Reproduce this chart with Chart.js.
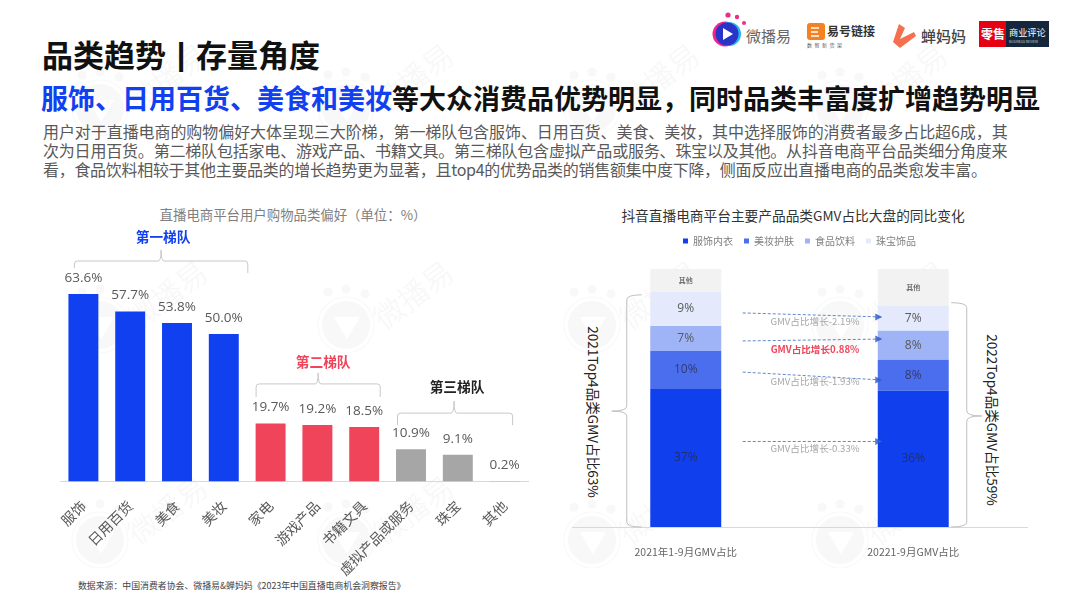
<!DOCTYPE html>
<html lang="zh">
<head>
<meta charset="utf-8">
<script src="https://cdn.jsdelivr.net/npm/chart.js@4/dist/chart.umd.js"></script>
<style>
html,body{margin:0;padding:0;background:#fff;}
body{width:1080px;height:608px;overflow:hidden;position:relative;font-family:"Noto Sans CJK SC","Noto Sans",sans-serif;}
canvas{position:absolute;left:0;top:0;}
.t{position:absolute;white-space:nowrap;transform:translateY(-50%);line-height:1.2;}
.c{transform:translate(-50%,-50%);}
.v{transform:translate(-50%,-50%) rotate(90deg);color:#222;font-size:13.6px;}
#wm,#logos{position:absolute;left:0;top:0;}
</style>
</head>
<body>
<svg id="wm" width="1080" height="608"></svg>

<div class="t" style="left:42px;top:55px;font-size:31px;font-weight:700;color:#111;">品类趋势<span style="display:inline-block;width:30px;text-align:center;font-family:'Liberation Sans';position:relative;top:-2px;">|</span>存量角度</div>
<div class="t" style="left:41px;top:98px;font-size:27px;font-weight:700;color:#111;"><span style="color:#1140F0">服饰、日用百货、美食和美妆</span>等大众消费品优势明显，同时品类丰富度扩增趋势明显</div>
<div class="t" style="left:43px;top:132px;font-size:16px;color:#595959;letter-spacing:-.07px;">用户对于直播电商的购物偏好大体呈现三大阶梯，第一梯队包含服饰、日用百货、美食、美妆，其中选择服饰的消费者最多占比超6成，其</div>
<div class="t" style="left:43px;top:151px;font-size:16px;color:#595959;letter-spacing:-.19px;">次为日用百货。第二梯队包括家电、游戏产品、书籍文具。第三梯队包含虚拟产品或服务、珠宝以及其他。从抖音电商平台品类细分角度来</div>
<div class="t" style="left:43px;top:170px;font-size:16px;color:#595959;letter-spacing:-.3px;">看，食品饮料相较于其他主要品类的增长趋势更为显著，且top4的优势品类的销售额集中度下降，侧面反应出直播电商的品类愈发丰富。</div>

<div class="t c" style="left:293px;top:214px;font-size:13.4px;color:#7f7f7f;">直播电商平台用户购物品类偏好（单位：%）</div>
<div class="t c" style="left:793px;top:215px;font-size:13.7px;color:#333;">抖音直播电商平台主要产品品类GMV占比大盘的同比变化</div>
<div class="t" style="left:78px;top:586px;font-size:8.9px;color:#444;">数据来源：中国消费者协会、微播易&amp;蝉妈妈《2023年中国直播电商机会洞察报告》</div>

<div class="t c v" style="left:594px;top:412px;">2021Top4品类GMV占比63%</div>
<div class="t c v" style="left:993px;top:420px;">2022Top4品类GMV占比59%</div>

<svg id="logos" width="1080" height="60">
  <circle cx="728" cy="15" r="2.6" fill="#EC2D8C"/><circle cx="737" cy="17" r="2.2" fill="#EC2D8C"/><circle cx="744" cy="23" r="2" fill="#EC2D8C"/>
  <circle cx="725" cy="34" r="12.5" fill="#F0268A"/><circle cx="729" cy="34" r="12" fill="#22B5F0"/><circle cx="727" cy="34" r="11.5" fill="#2A34C8"/>
  <path d="M723 28 L733 34 L723 40 Z" fill="#fff"/>
  <text x="746" y="42" font-size="15" fill="#666">微播易</text>
  <rect x="807" y="23" width="18" height="17" rx="3" fill="#F58220"/>
  <path d="M811 28h8M811 32h7M811 36h8" stroke="#fff" stroke-width="1.5"/>
  <text x="827" y="36" font-size="12" font-weight="700" fill="#333">易号链接</text>
  <text x="807" y="47" font-size="5" fill="#555" letter-spacing="2.5">数智新货架</text>
  <path d="M899 24 L905 28 L900 39 L914 32 L916 36 L900 48 L893 42 Z" fill="#F4714F"/>
  <text x="921" y="42" font-size="15" font-weight="500" fill="#444">蝉妈妈</text>
  <rect x="979" y="21" width="27" height="26" fill="#E60012"/>
  <rect x="1006" y="21" width="43" height="26" fill="#14273C"/>
  <text x="981" y="39" font-size="12" font-weight="700" fill="#fff">零售</text>
  <text x="1009" y="36" font-size="9.2" fill="#fff">商业评论</text>
  <text x="1009" y="43" font-size="3.4" fill="#ccc">BUSINESS REVIEW</text>
</svg>

<canvas id="pref" width="1080" height="608"></canvas>
<canvas id="gmv" width="1080" height="608"></canvas>

<script>
/* ---------- left chart data ---------- */
const categories = ['服饰','日用百货','美食','美妆','家电','游戏产品','书籍文具','虚拟产品或服务','珠宝','其他'];
const preference = [63.6,57.7,53.8,50.0,19.7,19.2,18.5,10.9,9.1,0.2];
const tierOfCategory = [0,0,0,0,1,1,1,2,2,2];
const tierNames = ['第一梯队','第二梯队','第三梯队'];

/* ---------- right chart data ---------- */
const periods = ['2021年1-9月GMV占比','20221-9月GMV占比'];
const clothing = [36.8,36.3];
const beauty   = [10.1,8.3];
const food     = [6.7,7.7];
const jewelry  = [9.1,6.7];
const others   = [6.1,9.8];
const changeLabels = ['GMV占比增长-2.19%','GMV占比增长0.88%','GMV占比增长-1.93%','GMV占比增长-0.33%'];

/* ---------- styles ---------- */
const BLUE='#1140F0', RED='#EF445A', GREY='#A6A6A6';
const tierColors=[BLUE,RED,GREY];
const tierTextColors=[BLUE,RED,'#222'];
const FONT='"Open Sans","Noto Sans CJK SC",sans-serif';
const CJK='"Noto Sans CJK SC",sans-serif';
Chart.defaults.animation=false;
Chart.defaults.devicePixelRatio=1;
Chart.defaults.font.family=CJK;

/* watermark */
(function(){
  const svg=document.getElementById('wm');let s='';
  [-174,72,318,564,812].forEach(x=>{[70,287,502].forEach(y=>{
    s+=`<g transform="translate(${x},${y})" fill="#F8F8F8">
      <circle cx="10" cy="5" r="4.5"/><circle cx="28" cy="2" r="4.5"/><circle cx="47" cy="7" r="4.5"/>
      <circle cx="28" cy="38" r="24"/><circle cx="28" cy="38" r="28" fill="none" stroke="#F9F9F9" stroke-width="1.2"/>
      <path d="M16 30 L42 30 L29 52 Z" fill="#fff"/>
      <text transform="translate(66,44) rotate(-37)" font-size="30" fill="#F7F7F7" font-weight="300">微播易</text></g>`;
  });});
  svg.innerHTML=s;
})();

function fixAxis(h){return s=>{s.height=h;s.paddingLeft=0;s.paddingRight=0;s.paddingTop=0;s.paddingBottom=0;};}

/* ---------- left chart ---------- */
const brackets=[
  {tier:0,from:0,to:3,level:74.8,dl:-9, dr:24, tipDx:0, ld:7, rd:12,tip:11,labelDx:2,labelUp:24},
  {tier:1,from:4,to:6,level:33.1,dl:-14.5,dr:16,tipDx:0,ld:13,rd:13,tip:11,labelDx:5,labelUp:22},
  {tier:2,from:7,to:9,level:23.2,dl:-13.5,dr:8, tipDx:-1,ld:12,rd:12,tip:12,labelDx:3,labelUp:26}
];
const prefPlugin={id:'prefMarks',afterDatasetsDraw(chart){
  const c=chart.ctx,meta=chart.getDatasetMeta(0),x=chart.scales.x,y=chart.scales.y;
  c.save();
  c.textAlign='center';c.textBaseline='middle';
  c.font='13.5px '+FONT;c.fillStyle='#595959';
  meta.data.forEach((el,i)=>c.fillText(preference[i].toFixed(1)+'%',el.x,el.y-16));
  brackets.forEach(b=>{
    const l=x.getPixelForValue(b.from)+b.dl,r=x.getPixelForValue(b.to)+b.dr,t=y.getPixelForValue(b.level),m=(l+r)/2+b.tipDx,rr=3;
    c.strokeStyle='#C8C8C8';c.lineWidth=1;c.beginPath();
    c.moveTo(l,t+b.ld);c.lineTo(l,t+rr);c.quadraticCurveTo(l,t,l+rr,t);
    c.lineTo(m-3,t);c.quadraticCurveTo(m,t,m,t-b.tip);c.quadraticCurveTo(m,t,m+3,t);
    c.lineTo(r-rr,t);c.quadraticCurveTo(r,t,r,t+rr);c.lineTo(r,t+b.rd);c.stroke();
    c.font='700 13.7px '+CJK;c.fillStyle=tierTextColors[b.tier];
    c.fillText(tierNames[b.tier],m+b.labelDx,t-b.labelUp);
  });
  c.restore();
}};
new Chart(document.getElementById('pref'),{
  type:'bar',
  data:{labels:categories,datasets:[{label:'用户购物品类偏好',data:preference,
    backgroundColor:tierOfCategory.map(t=>tierColors[t]),categoryPercentage:1,barPercentage:.64}]},
  options:{responsive:false,
    layout:{padding:{left:60,right:552,top:200,bottom:26.5}},
    plugins:{legend:{display:false},tooltip:{enabled:false}},
    scales:{
      x:{afterFit:fixAxis(100),grid:{display:false},border:{color:'#D9D9D9'},
         ticks:{autoSkip:false,minRotation:45,maxRotation:45,padding:8,color:'#595959',font:{size:14}}},
      y:{display:false,min:0,max:95.5}
    }},
  plugins:[prefPlugin]
});

/* ---------- right chart ---------- */
const arrows=[
  {from:57.07,to:56,labelV:54.9,bold:false},
  {from:49.6,to:50.1,labelV:47.4,bold:true},
  {from:41.3,to:39.2,labelV:38.9,bold:false},
  {from:22.8,to:22.8,labelV:21,bold:false}
];
const braces=[
  {bar:0,end:-44,spine:-59,tip:-74,topV:61.9,tipV:30.9},
  {bar:1,end:38,spine:53.5,tip:68.5,topV:59.8,tipV:29.6}
];
const gmvPlugin={id:'gmvMarks',afterDatasetsDraw(chart){
  const c=chart.ctx,x=chart.scales.x,y=chart.scales.y;
  c.save();
  c.textAlign='center';c.textBaseline='middle';
  chart.data.datasets.forEach((ds,di)=>{
    chart.getDatasetMeta(di).data.forEach((el,i)=>{
      const my=(el.y+el.base)/2;
      if(ds.label==='其他'){c.font='500 7px '+CJK;c.fillStyle='#555';c.fillText('其他',el.x,my);}
      else{c.font='12px '+FONT;c.fillStyle=di<2?'rgba(40,40,60,.72)':'#595959';c.fillText(Math.round(ds.data[i])+'%',el.x,my);}
    });
  });
  const x0=x.getPixelForValue(0)+57,x1=x.getPixelForValue(1)-32,cx=(x0+x1)/2+3;
  arrows.forEach((a,i)=>{
    const y0=y.getPixelForValue(a.from),y1=y.getPixelForValue(a.to);
    c.strokeStyle='rgba(68,114,196,.85)';c.lineWidth=1;c.setLineDash([3,2]);
    c.beginPath();c.moveTo(x0,y0);c.lineTo(x1,y1);c.stroke();c.setLineDash([]);
    c.fillStyle='rgba(50,95,200,.85)';
    c.beginPath();c.moveTo(x1-6,y1-3.5);c.lineTo(x1+1,y1);c.lineTo(x1-6,y1+3.5);c.closePath();c.fill();
    c.font=(a.bold?'700 ':'')+'9.6px '+CJK;c.fillStyle=a.bold?'#F0435A':'#A6A6A6';
    c.fillText(changeLabels[i],cx,y.getPixelForValue(a.labelV));
  });
  braces.forEach(b=>{
    const cx=x.getPixelForValue(b.bar),e=cx+b.end,s=cx+b.spine,t=cx+b.tip,top=y.getPixelForValue(b.topV),mid=y.getPixelForValue(b.tipV),bot=y.getPixelForValue(0),r=5;
    c.strokeStyle='#BFBFBF';c.lineWidth=1;c.beginPath();
    c.moveTo(e,top);c.quadraticCurveTo(s,top,s,top+r);c.lineTo(s,mid-r);c.quadraticCurveTo(s,mid,t,mid);
    c.quadraticCurveTo(s,mid,s,mid+r);c.lineTo(s,bot-r);c.quadraticCurveTo(s,bot,e,bot);c.stroke();
  });
  c.restore();
}};
new Chart(document.getElementById('gmv'),{
  type:'bar',
  data:{labels:periods,datasets:[
    {label:'服饰内衣',data:clothing,backgroundColor:'#1040EE'},
    {label:'美妆护肤',data:beauty,backgroundColor:'#4A6EEE'},
    {label:'食品饮料',data:food,backgroundColor:'#9FB3F7'},
    {label:'珠宝饰品',data:jewelry,backgroundColor:'#E4EAFC'},
    {label:'其他',data:others,backgroundColor:'#F2F2F2'}
  ].map(d=>Object.assign(d,{categoryPercentage:1,barPercentage:.312}))},
  options:{responsive:false,
    layout:{padding:{left:572,right:53,top:225,bottom:51}},
    plugins:{tooltip:{enabled:false},
      legend:{position:'top',labels:{boxWidth:5,boxHeight:5,padding:11,color:'#7f7f7f',font:{size:10},
        filter:i=>i.text!=='其他'}}},
    scales:{
      x:{stacked:true,afterFit:fixAxis(30),grid:{display:false},border:{color:'#D9D9D9'},
         ticks:{padding:11,color:'#666',font:{size:10.5},maxRotation:0}},
      y:{stacked:true,display:false,min:0,max:72.25}
    }},
  plugins:[gmvPlugin]
});
</script>
</body>
</html>
